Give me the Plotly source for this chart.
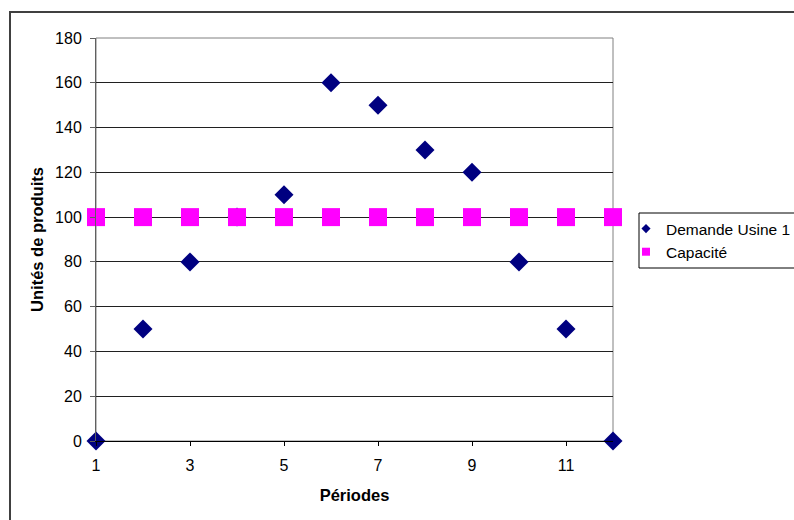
import plotly.graph_objects as go

periodes = [1, 2, 3, 4, 5, 6, 7, 8, 9, 10, 11, 12]
demande = [0, 50, 80, 100, 110, 160, 150, 130, 120, 80, 50, 0]
capacite = [100, 100, 100, 100, 100, 100, 100, 100, 100, 100, 100, 100]
x_ticks = [1, 3, 5, 7, 9, 11]
y_ticks = [0, 20, 40, 60, 80, 100, 120, 140, 160, 180]

W, H = 794, 520
L, R, T, B = 96, 613, 38, 441
pw, ph = R - L, B - T


def px(x):
    return (x - L) / pw


def py(y):
    return (B - y) / ph


FONT = "Liberation Sans, Arial, sans-serif"
NAVY = "#000080"
MAGENTA = "#FF00FF"

fig = go.Figure()
fig.add_trace(go.Scatter(x=periodes, y=demande, mode="markers", name="Demande Usine 1",
                         marker=dict(symbol="diamond", size=14.6, color=NAVY),
                         cliponaxis=False, showlegend=False))
fig.add_trace(go.Scatter(x=periodes, y=capacite, mode="markers", name="Capacité",
                         marker=dict(symbol="square", size=18, color=MAGENTA),
                         cliponaxis=False, showlegend=False))
# legend entries with small symbols
fig.add_trace(go.Scatter(x=[None], y=[None], mode="markers", name="Demande Usine 1",
                         marker=dict(symbol="diamond", size=7, color=NAVY)))
fig.add_trace(go.Scatter(x=[None], y=[None], mode="markers", name="Capacité",
                         marker=dict(symbol="square", size=8, color=MAGENTA)))

shapes = [
    dict(type="rect", xref="paper", yref="paper", x0=0, x1=1, y0=0, y1=1,
         line=dict(color="#808080", width=1), layer="between"),
    dict(type="rect", xref="paper", yref="paper", x0=px(10), x1=px(802),
         y0=py(530), y1=py(12), line=dict(color="#404040", width=2), layer="above"),
    dict(type="rect", xref="paper", yref="paper", x0=px(639), x1=px(802),
         y0=py(268), y1=py(213), line=dict(color="#000000", width=1), layer="above"),
]

fig.update_layout(
    width=W, height=H,
    margin=dict(l=L, r=W - R, t=T, b=H - B, pad=0, autoexpand=False),
    paper_bgcolor="white", plot_bgcolor="white",
    font=dict(family=FONT, size=16, color="#000000"),
    showlegend=True,
    legend=dict(x=px(626), y=py(212), xanchor="left", yanchor="top",
                bgcolor="rgba(0,0,0,0)", borderwidth=0,
                font=dict(family=FONT, size=15.5, color="#000000"),
                tracegroupgap=0, itemsizing="trace"),
    shapes=shapes,
    xaxis=dict(range=[1, 12], tickmode="array", tickvals=x_ticks,
               ticktext=[str(v) for v in x_ticks],
               showgrid=False, zeroline=False, automargin=False,
               showline=True, linecolor="#000000", linewidth=1,
               ticks="outside", ticklen=4, tickcolor="#000000", tickwidth=1,
               ticklabelstandoff=6,
               tickfont=dict(family=FONT, size=16),
               title=dict(text="<b>Périodes</b>", font=dict(family=FONT, size=16.5),
                          standoff=16)),
    yaxis=dict(range=[0, 180], tickmode="array", tickvals=y_ticks,
               showgrid=True, gridcolor="#202020", gridwidth=1, zeroline=False,
               automargin=False,
               showline=True, linecolor="#606060", linewidth=1,
               ticks="outside", ticklen=5, tickcolor="#606060", tickwidth=1,
               ticklabelstandoff=5,
               tickfont=dict(family=FONT, size=16),
               title=dict(text="<b>Unités de produits</b>", font=dict(family=FONT, size=16.5),
                          standoff=7)),
)

fig.write_html("out.html", config={"displayModeBar": False})
with open("out.html", encoding="utf-8") as f:
    html = f.read()
html = html.replace("<body>", '<body style="margin:0;overflow:hidden">', 1)
with open("out.html", "w", encoding="utf-8") as f:
    f.write(html)
